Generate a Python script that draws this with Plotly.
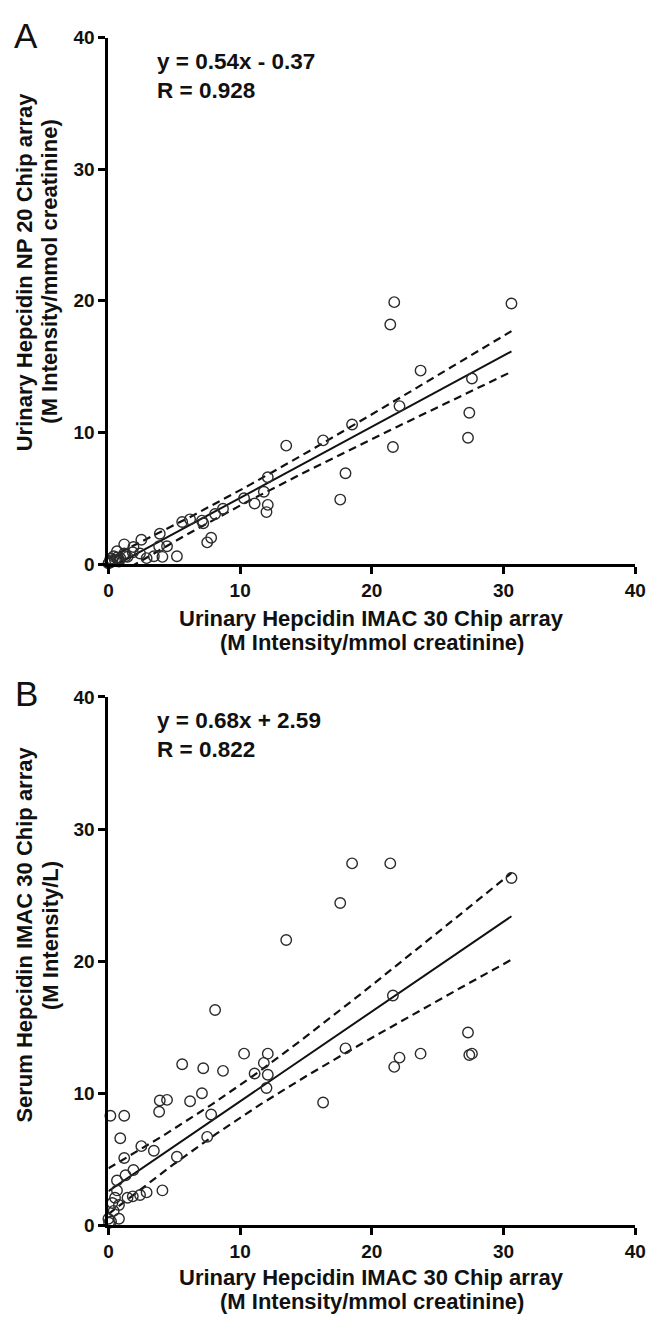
import numpy as np
import plotly.graph_objects as go

# Urinary hepcidin, IMAC30 chip (M intensity / mmol creatinine) - shared x for both panels
imac_urine = [30.6, 27.6, 27.4, 27.3, 23.7, 22.1, 21.7, 21.6, 21.4, 18.5,
              18.0, 17.6, 16.3, 13.5, 12.1, 11.8, 12.1, 12.0, 11.1, 10.3,
              8.7, 8.1, 7.2, 7.1, 7.5, 7.8, 6.2, 5.6, 5.2, 4.45,
              3.9, 3.85, 3.45, 4.1, 2.5, 2.9, 2.4, 1.9, 1.85, 1.45,
              1.2, 1.3, 1.2, 0.9, 0.65, 0.65, 0.5, 0.8, 0.4, 0.8,
              0.0, 0.2, 0.15, 0.3, 0.05]

# Panel A: urinary hepcidin, NP20 chip (M intensity / mmol creatinine)
np20_urine = [19.8, 14.1, 11.5, 9.6, 14.7, 12.0, 19.9, 8.9, 18.2, 10.6,
              6.9, 4.9, 9.4, 9.0, 6.6, 5.5, 4.5, 3.95, 4.6, 5.0,
              4.2, 3.8, 3.1, 3.3, 1.65, 2.0, 3.4, 3.2, 0.6, 1.35,
              2.3, 1.35, 0.6, 0.55, 1.85, 0.45, 0.8, 1.3, 0.9, 0.55,
              1.5, 0.6, 0.8, 0.45, 0.97, 0.5, 0.3, 0.35, 0.6, 0.2,
              0.05, 0.15, 0.4, 0.3, 0.1]

# Panel B: serum hepcidin, IMAC30 chip (M intensity / L)
serum_imac = [26.3, 13.0, 12.9, 14.6, 13.0, 12.7, 12.0, 17.4, 27.4, 27.4,
              13.4, 24.4, 9.3, 21.6, 13.0, 12.3, 11.4, 10.4, 11.5, 13.0,
              11.7, 16.3, 11.9, 10.0, 6.7, 8.4, 9.4, 12.2, 5.2, 9.5,
              9.45, 8.6, 5.65, 2.65, 6.0, 2.5, 2.3, 4.2, 2.2, 2.1,
              5.1, 3.8, 8.3, 6.6, 3.4, 2.65, 2.1, 1.55, 1.1, 0.5,
              0.5, 0.3, 8.3, 1.7, 0.2]

# Linear fits as reported on each panel
fit_a = {"slope": 0.54, "intercept": -0.37, "r": "0.928"}
fit_b = {"slope": 0.68, "intercept": 2.59, "r": "0.822"}

T_95 = 2.006  # two-sided 95% t quantile, df = 53

axis_ticks = [0, 10, 20, 30, 40]

FONT = "Liberation Sans, Arial, Helvetica, sans-serif"
W, H = 657, 1325


def fit_lines(x, y, slope, intercept):
    x = np.asarray(x, float)
    y = np.asarray(y, float)
    n = len(x)
    resid = y - (slope * x + intercept)
    s = np.sqrt(np.sum(resid ** 2) / (n - 2))
    xbar = x.mean()
    sxx = np.sum((x - xbar) ** 2)
    xs = np.linspace(x.min(), x.max(), 120)
    yfit = slope * xs + intercept
    hw = T_95 * s * np.sqrt(1.0 / n + (xs - xbar) ** 2 / sxx)
    return xs, yfit, yfit - hw, yfit + hw


def eq_text(fit):
    sign = "-" if fit["intercept"] < 0 else "+"
    return f"y = {fit['slope']:.2f}x {sign} {abs(fit['intercept']):.2f}<br>R = {fit['r']}"


fig = go.Figure()

panels = [
    ("x", "y", np20_urine, fit_a),
    ("x2", "y2", serum_imac, fit_b),
]

for xa, ya, yvals, fit in panels:
    xs, yfit, lo, hi = fit_lines(imac_urine, yvals, fit["slope"], fit["intercept"])
    for band in (lo, hi):
        fig.add_trace(go.Scatter(
            x=xs, y=band, mode="lines", xaxis=xa, yaxis=ya,
            line=dict(color="#111111", width=2.2, dash="8px,5px"),
            hoverinfo="skip", showlegend=False))
    fig.add_trace(go.Scatter(
        x=xs, y=yfit, mode="lines", xaxis=xa, yaxis=ya,
        line=dict(color="#111111", width=2),
        hoverinfo="skip", showlegend=False))
    fig.add_trace(go.Scatter(
        x=imac_urine, y=yvals, mode="markers", xaxis=xa, yaxis=ya,
        cliponaxis=False,
        marker=dict(symbol="circle-open", size=10.5, color="#2b2b2b",
                    line=dict(width=1.4, color="#2b2b2b")),
        showlegend=False))

axis_style = dict(
    range=[0, 40], tickvals=axis_ticks, ticktext=[str(v) for v in axis_ticks],
    showline=True, linecolor="black", linewidth=3,
    ticks="outside", ticklen=7, tickwidth=3, tickcolor="black",
    showgrid=False, zeroline=False, fixedrange=True,
    tickfont=dict(family=FONT, size=19, color="#111111", weight="bold"),
)

x_dom = [106 / W, 646 / W]
ya_dom = [1 - 563 / H, 1 - 28 / H]
yb_dom = [1 - 1235 / H, 1 - 698 / H]

fig.update_layout(
    width=W, height=H,
    margin=dict(l=0, r=0, t=0, b=0),
    paper_bgcolor="white", plot_bgcolor="white",
    xaxis=dict(domain=x_dom, anchor="y", **axis_style),
    yaxis=dict(domain=ya_dom, anchor="x", **axis_style),
    xaxis2=dict(domain=x_dom, anchor="y2", **axis_style),
    yaxis2=dict(domain=yb_dom, anchor="x2", **axis_style),
)

bold = dict(family=FONT, size=22, color="#111111", weight="bold")
eq_font = dict(family=FONT, size=22.5, color="#111111", weight="bold")
annots = []

# Equation and correlation inside each panel
for xr, yr, fit in (("x", "y", fit_a), ("x2", "y2", fit_b)):
    annots.append(dict(xref=xr, yref=yr, x=3.5, y=37.1, text=eq_text(fit),
                       xanchor="left", yanchor="middle", align="left",
                       showarrow=False, font=eq_font))

# Panel letters
for letter, py in (("A", 25.5), ("B", 695)):
    annots.append(dict(xref="paper", yref="paper", x=22 / W, y=1 - py / H,
                       text=letter, xanchor="center", yanchor="middle", showarrow=False,
                       font=dict(family=FONT, size=35, color="#111111")))

# X-axis titles
xc = (106 + 646) / 2 / W
for l1, l2 in ((618, 643), (1288, 1312)):
    annots.append(dict(xref="paper", yref="paper", x=xc, y=1 - l1 / H,
                       text="Urinary Hepcidin IMAC 30 Chip array",
                       xanchor="center", yanchor="middle", showarrow=False, font=bold))
    annots.append(dict(xref="paper", yref="paper", x=xc, y=1 - l2 / H,
                       text="(M Intensity/mmol creatinine)",
                       xanchor="center", yanchor="middle", showarrow=False, font=bold))

# Y-axis titles
for cy, t1, t2 in ((266, "Urinary Hepcidin NP 20 Chip array", "(M Intensity/mmol creatinine)"),
                   (940, "Serum Hepcidin IMAC 30 Chip array", "(M Intensity/L)")):
    annots.append(dict(xref="paper", yref="paper", x=20 / W, y=1 - cy / H, text=t1,
                       textangle=-90, xanchor="center", yanchor="middle",
                       showarrow=False, font=bold))
    annots.append(dict(xref="paper", yref="paper", x=46 / W, y=1 - cy / H, text=t2,
                       textangle=-90, xanchor="center", yanchor="middle",
                       showarrow=False, font=bold))

fig.update_layout(annotations=annots)

fig.write_html("out.html", include_plotlyjs=True, config={"displayModeBar": False})
